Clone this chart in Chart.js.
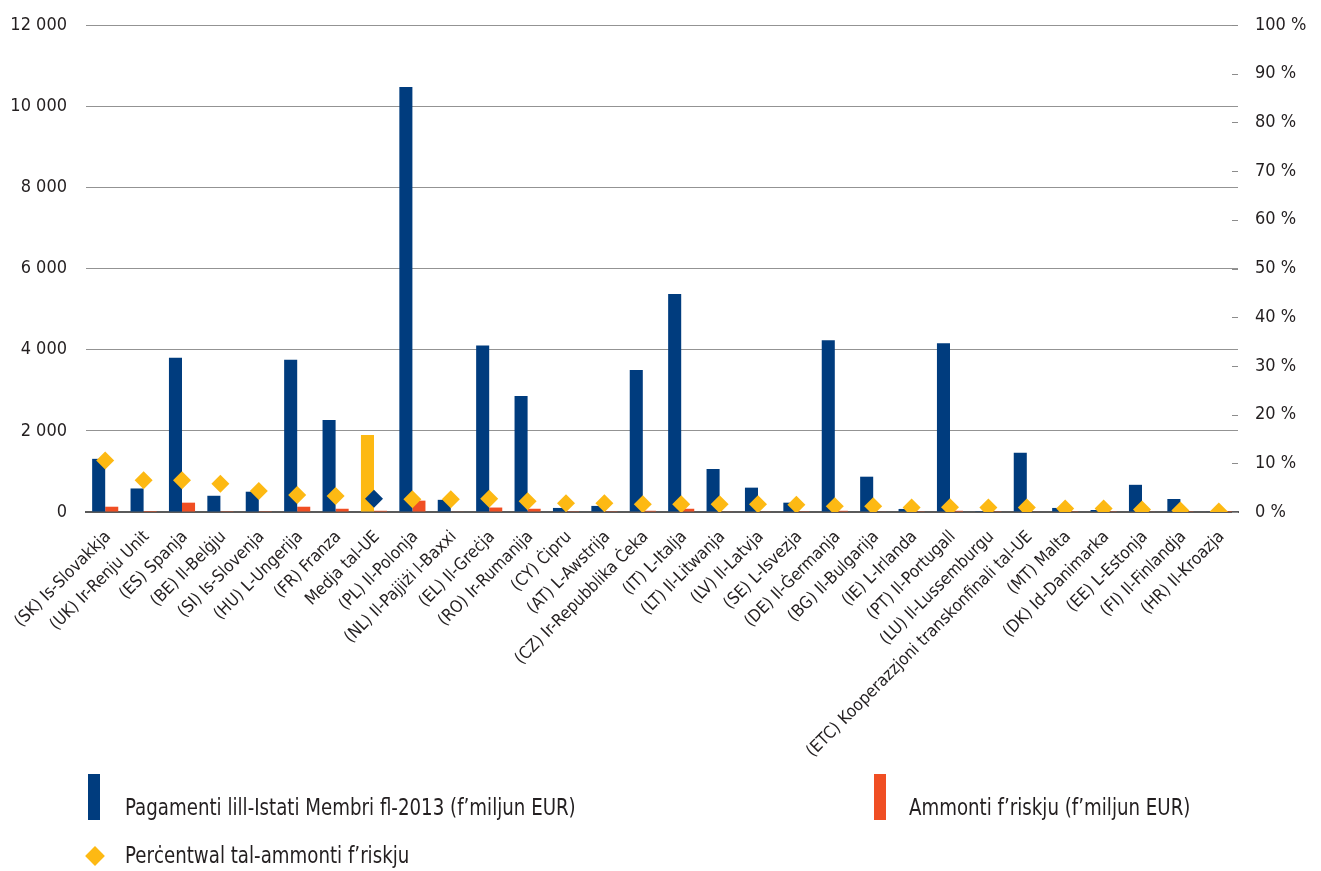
<!DOCTYPE html>
<html>
<head>
<meta charset="utf-8">
<script src="https://cdn.jsdelivr.net/npm/chart.js@4/dist/chart.umd.min.js"></script>
<style>
  html, body { margin: 0; padding: 0; background: #fff; }
  #wrap { position: relative; width: 1321px; height: 871px; }
  #c { position: absolute; left: 0; top: 0; }
  .lg { position: absolute; font-family: 'DejaVu Sans Condensed', 'DejaVu Sans', sans-serif; font-size: 23px; color: #231f20; white-space: nowrap; line-height: 1; transform: scaleX(0.88); transform-origin: 0 0; }
  .sw { position: absolute; }
</style>
</head>
<body>
<div id="wrap">
  <canvas id="c" width="1321" height="871"></canvas>
</div>
<script>
const categories = [
  "(SK) Is-Slovakkja", "(UK) Ir-Renju Unit", "(ES) Spanja", "(BE) Il-Belġju", "(SI) Is-Slovenja",
  "(HU) L-Ungerija", "(FR) Franza", "Medja tal-UE", "(PL) Il-Polonja", "(NL) Il-Pajjiżi l-Baxxi",
  "(EL) Il-Greċja", "(RO) Ir-Rumanija", "(CY) Ċipru", "(AT) L-Awstrija", "(CZ) Ir-Repubblika Ċeka",
  "(IT) L-Italja", "(LT) Il-Litwanja", "(LV) Il-Latvja", "(SE) L-Isvezja", "(DE) Il-Ġermanja",
  "(BG) Il-Bulgarija", "(IE) L-Irlanda", "(PT) Il-Portugall", "(LU) Il-Lussemburgu",
  "(ETC) Kooperazzjoni transkonfinali tal-UE", "(MT) Malta", "(DK) Id-Danimarka", "(EE) L-Estonja",
  "(FI) Il-Finlandja", "(HR) Il-Kroazja"
];
const payments = [1310, 580, 3800, 400, 500, 3750, 2270, 1900, 10470, 300,
                  4100, 2860, 100, 150, 3500, 5370, 1060, 600, 230, 4230,
                  870, 75, 4160, 20, 1460, 100, 50, 670, 320, 10];
const atRisk = [130, 25, 230, 5, 5, 130, 80, 30, 280, 10,
                110, 80, 5, 5, 30, 80, 10, 10, 5, 30,
                10, 5, 30, 5, 10, 5, 5, 10, 5, 2];
const pctAtRisk = [10.6, 6.5, 6.5, 5.8, 4.3, 3.5, 3.3, 2.7, 2.6, 2.6,
                   2.7, 2.2, 1.8, 1.8, 1.6, 1.6, 1.6, 1.6, 1.5, 1.2,
                   1.2, 0.9, 1.0, 0.9, 0.9, 0.7, 0.7, 0.5, 0.3, 0.1];
const leftTicks = [0, 2000, 4000, 6000, 8000, 10000, 12000];
const rightTicks = [0, 10, 20, 30, 40, 50, 60, 70, 80, 90, 100];
const seriesLabels = [
  "Pagamenti lill-Istati Membri fl-2013 (f’miljun EUR)",
  "Ammonti f’riskju (f’miljun EUR)",
  "Perċentwal tal-ammonti f’riskju"
];
const averageLabel = "Medja tal-UE";

const BLUE = '#003c7e', ORANGE = '#f04e23', YELLOW = '#fdb913';
const FONT = "'DejaVu Sans Condensed', 'DejaVu Sans', sans-serif";
const TEXT = '#231f20';

const avgIdx = categories.indexOf(averageLabel);
const barColors = categories.map((c, i) => i === avgIdx ? YELLOW : BLUE);
const pointColors = categories.map((c, i) => i === avgIdx ? BLUE : YELLOW);

function fmt(v) { return String(v).replace(/\B(?=(\d{3})+(?!\d))/g, ' '); }

const rightInnerTicks = {
  id: 'rightInnerTicks',
  beforeDatasetsDraw(chart) {
    const s = chart.scales.yR, a = chart.chartArea, ctx = chart.ctx;
    ctx.save();
    ctx.strokeStyle = '#8c8c8c';
    ctx.lineWidth = 1;
    rightTicks.forEach(v => {
      const y = Math.round(s.getPixelForValue(v)) + 0.5;
      ctx.beginPath();
      ctx.moveTo(a.right - 6, y);
      ctx.lineTo(a.right, y);
      ctx.stroke();
    });
    ctx.restore();
  }
};

function noPad(s) { s.paddingLeft = 0; s.paddingRight = 0; s.paddingTop = 0; s.paddingBottom = 0; }

const chart = new Chart(document.getElementById('c'), {
  data: {
    labels: categories,
    datasets: [
      { type: 'line', label: seriesLabels[2], data: pctAtRisk, yAxisID: 'yR', order: 0,
        showLine: false, pointStyle: 'rectRot', pointRadius: 9, pointHoverRadius: 9,
        pointBackgroundColor: pointColors, pointBorderWidth: 0, borderWidth: 0 },
      { type: 'bar', label: seriesLabels[0], data: payments, yAxisID: 'y', order: 2,
        backgroundColor: barColors, categoryPercentage: 0.68, barPercentage: 1.0 },
      { type: 'bar', label: seriesLabels[1], data: atRisk, yAxisID: 'y', order: 2,
        backgroundColor: ORANGE, categoryPercentage: 0.68, barPercentage: 1.0 }
    ]
  },
  options: {
    responsive: false,
    animation: false,
    devicePixelRatio: 1,
    layout: { padding: { top: 25, left: 0, right: 0, bottom: 0 } },
    plugins: { legend: { display: false }, tooltip: { enabled: false } },
    scales: {
      x: {
        afterFit(s) { s.height = 871 - 512; noPad(s); },
        grid: { display: true, drawOnChartArea: false, drawTicks: false, color: 'rgba(0,0,0,0)' },
        border: { display: true, color: '#5a5a5a', width: 2 },
        ticks: { autoSkip: false, minRotation: 45, maxRotation: 45, padding: 15, labelOffset: 3,
                 color: TEXT, font: { family: FONT, size: 17 } }
      },
      y: {
        position: 'left',
        min: 0, max: 12000,
        afterFit(s) { s.width = 86; noPad(s); },
        afterBuildTicks(s) { s.ticks = leftTicks.map(v => ({ value: v })); },
        grid: { drawTicks: false, color: ctx => ctx.tick && ctx.tick.value === 0 ? 'rgba(0,0,0,0)' : '#939393', lineWidth: 1 },
        border: { display: false },
        ticks: { padding: 19, color: TEXT, font: { family: FONT, size: 18 }, callback: v => fmt(v) }
      },
      yR: {
        position: 'right',
        min: 0, max: 100,
        afterFit(s) { s.width = 1321 - 1238; noPad(s); },
        afterBuildTicks(s) { s.ticks = rightTicks.map(v => ({ value: v })); },
        grid: { drawOnChartArea: false, drawTicks: false },
        border: { display: false },
        ticks: { padding: 17, color: TEXT, font: { family: FONT, size: 18 }, callback: v => v + ' %' }
      }
    }
  },
  plugins: [rightInnerTicks]
});

// HTML legend built from the datasets
const wrap = document.getElementById('wrap');
const legendItems = [
  { ds: 1, kind: 'bar', color: BLUE, sx: 88, sy: 774, tx: 125, ty: 796 },
  { ds: 2, kind: 'bar', color: ORANGE, sx: 874, sy: 774, tx: 909, ty: 796 },
  { ds: 0, kind: 'diamond', color: YELLOW, sx: 88, sy: 849, tx: 125, ty: 844 }
];
legendItems.forEach(it => {
  const sw = document.createElement('div');
  sw.className = 'sw';
  if (it.kind === 'bar') {
    Object.assign(sw.style, { left: it.sx + 'px', top: it.sy + 'px', width: '12px', height: '46px', background: it.color });
  } else {
    Object.assign(sw.style, { left: it.sx + 'px', top: it.sy + 'px', width: '14px', height: '14px', background: it.color, transform: 'rotate(45deg)' });
  }
  wrap.appendChild(sw);
  const t = document.createElement('div');
  t.className = 'lg';
  t.style.left = it.tx + 'px';
  t.style.top = it.ty + 'px';
  t.textContent = chart.data.datasets[it.ds].label;
  wrap.appendChild(t);
});
</script>
</body>
</html>
